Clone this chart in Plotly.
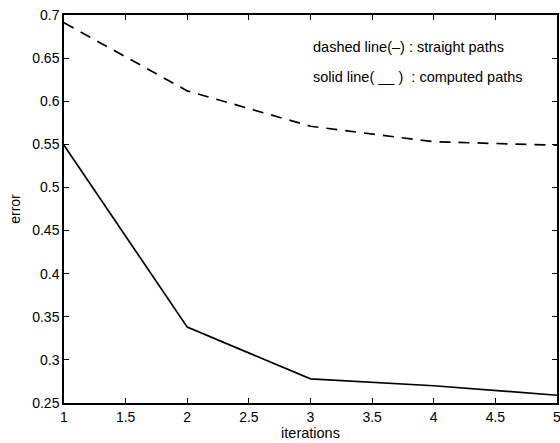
import plotly.graph_objects as go

iterations = [1, 2, 3, 4, 5]
straight_err = [0.691, 0.612, 0.571, 0.553, 0.549]
computed_err = [0.549, 0.338, 0.278, 0.270, 0.259]
x_ticks = [1, 1.5, 2, 2.5, 3, 3.5, 4, 4.5, 5]
y_ticks = [0.25, 0.3, 0.35, 0.4, 0.45, 0.5, 0.55, 0.6, 0.65, 0.7]

fig = go.Figure()
fig.add_trace(go.Scatter(x=iterations, y=straight_err, mode="lines",
                         line=dict(color="black", width=1.7, dash="11px,8px"), showlegend=False))
fig.add_trace(go.Scatter(x=iterations, y=computed_err, mode="lines",
                         line=dict(color="black", width=1.7), showlegend=False))

fig.add_annotation(x=3.0, y=0.663, xref="x", yref="y", xanchor="left", yanchor="middle",
                   text="dashed line(–) : straight paths", showarrow=False,
                   font=dict(size=14.5, color="black"))
fig.add_annotation(x=3.0, y=0.628, xref="x", yref="y", xanchor="left", yanchor="middle",
                   text="solid line( __ )  : computed paths", showarrow=False,
                   font=dict(size=14.5, color="black"))

axis_common = dict(showline=True, linecolor="black", linewidth=1.5, mirror="ticks",
                   ticks="inside", ticklen=5, tickcolor="black", showgrid=False,
                   zeroline=False, automargin=False, ticklabeloverflow="allow",
                   tickfont=dict(size=14, color="black"))
fig.update_xaxes(range=[1, 5], tickvals=x_ticks, ticktext=[f"{v:g}" for v in x_ticks],
                 title=dict(text="iterations", font=dict(size=14.5, color="black"), standoff=2),
                 **axis_common)
fig.update_yaxes(range=[0.25, 0.7], tickvals=y_ticks, ticktext=[f"{v:g}" for v in y_ticks],
                 title=dict(text="error", font=dict(size=14, color="black"), standoff=8),
                 **axis_common)
fig.update_layout(width=560, height=443, margin=dict(l=64, r=3, t=15, b=40),
                  plot_bgcolor="white", paper_bgcolor="white",
                  font=dict(family="Liberation Sans, Arial, sans-serif", color="black"))
fig.write_html("out.html", config={"displayModeBar": False},
               post_script="document.body.style.margin='0';document.body.style.overflow='hidden';")
